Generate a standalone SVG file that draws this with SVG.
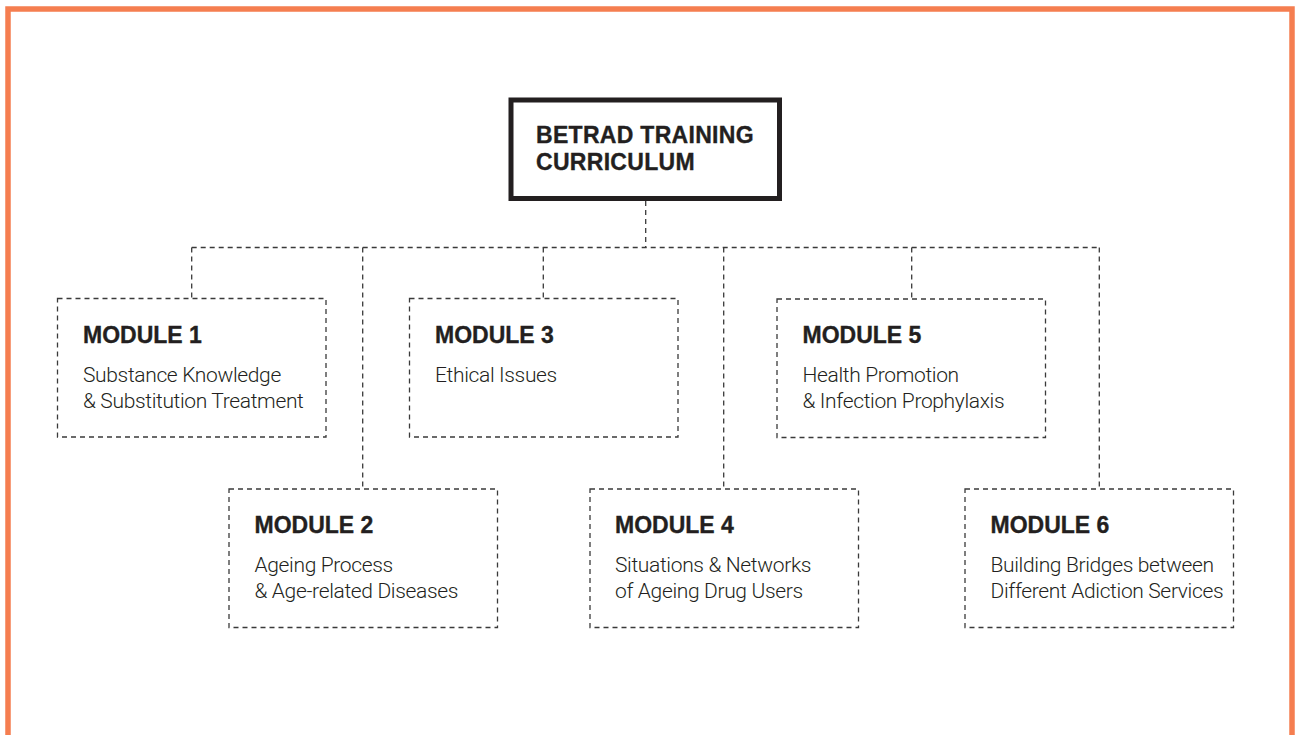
<svg xmlns="http://www.w3.org/2000/svg" width="1295" height="735" viewBox="0 0 1295 735">
<style>
.frame{fill:none;stroke:#F57E50;stroke-width:5.5}
.main{fill:#fff;stroke:#231f20;stroke-width:5}
.mod{fill:none;stroke:#3a3a3a;stroke-width:1.3;stroke-dasharray:5 4}
.conn{fill:none;stroke:#3a3a3a;stroke-width:1.3;stroke-dasharray:5 4}
.ttl{font-family:"Liberation Sans",Arial,sans-serif;font-weight:bold;font-size:23px;fill:#231f20;stroke:#231f20;stroke-width:0.35}
.sub{font-family:Roboto,"Liberation Sans",Arial,sans-serif;font-weight:300;font-size:21px;letter-spacing:-0.35px;fill:#231f20}
</style>
<rect x="0" y="0" width="1295" height="735" fill="#fff"/>
<rect class="frame" x="8" y="9" width="1284" height="760"/>
<g id="connectors">
<path class="conn" d="M645.7 201 V247.5"/>
<path class="conn" d="M191.7 247.5 H1099.3"/>
<path class="conn" d="M191.7 247.5 V298.5"/>
<path class="conn" d="M362.7 247.5 V489"/>
<path class="conn" d="M543.3 247.5 V298.5"/>
<path class="conn" d="M723.7 247.5 V489"/>
<path class="conn" d="M911.7 247.5 V299"/>
<path class="conn" d="M1099.3 247.5 V489"/>
</g>
<g id="root">
<rect class="main" x="511" y="100" width="268.5" height="98.5"/>
<text class="ttl" x="536" y="142.7" letter-spacing="0.3">BETRAD TRAINING</text>
<text class="ttl" x="536" y="170" letter-spacing="0.3">CURRICULUM</text>
</g>
<g id="module1">
<rect class="mod" x="57.5" y="298.5" width="268.5" height="138.5"/>
<text class="ttl" x="83" y="342.7">MODULE 1</text>
<text class="sub" x="83" y="381.7">Substance Knowledge</text>
<text class="sub" x="83" y="407.5">&amp; Substitution Treatment</text>
</g>
<g id="module2">
<rect class="mod" x="229" y="489" width="268.5" height="138.5"/>
<text class="ttl" x="254.5" y="532.5">MODULE 2</text>
<text class="sub" x="254.5" y="572">Ageing Process</text>
<text class="sub" x="254.5" y="597.5">&amp; Age-related Diseases</text>
</g>
<g id="module3">
<rect class="mod" x="409.5" y="298.5" width="268.5" height="138.5"/>
<text class="ttl" x="435" y="342.7">MODULE 3</text>
<text class="sub" x="435" y="381.7">Ethical Issues</text>
</g>
<g id="module4">
<rect class="mod" x="590" y="489" width="268.5" height="138.5"/>
<text class="ttl" x="615" y="532.5">MODULE 4</text>
<text class="sub" x="615" y="572">Situations &amp; Networks</text>
<text class="sub" x="615" y="597.5">of Ageing Drug Users</text>
</g>
<g id="module5">
<rect class="mod" x="777" y="299" width="268.5" height="138.5"/>
<text class="ttl" x="802.5" y="342.7">MODULE 5</text>
<text class="sub" x="802.5" y="381.7">Health Promotion</text>
<text class="sub" x="802.5" y="407.5">&amp; Infection Prophylaxis</text>
</g>
<g id="module6">
<rect class="mod" x="965" y="489" width="268.5" height="138.5"/>
<text class="ttl" x="990.5" y="532.5">MODULE 6</text>
<text class="sub" x="990.5" y="572">Building Bridges between</text>
<text class="sub" x="990.5" y="597.5">Different Adiction Services</text>
</g>
</svg>
